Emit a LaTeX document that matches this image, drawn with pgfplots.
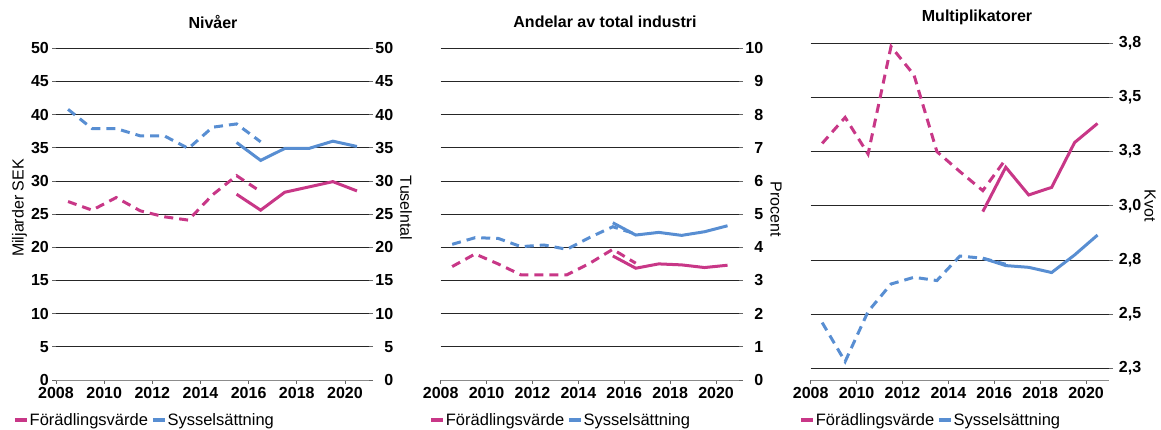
\documentclass[border=0pt]{standalone}
\usepackage{fontspec}
\setmainfont{Liberation Sans}
\usepackage{pgfplots}
\pgfplotsset{compat=1.18}

\definecolor{fvcol}{RGB}{200,55,135}
\definecolor{sscol}{RGB}{88,142,210}
\newcommand\fs{\fontsize{16}{19}\selectfont}
\newcommand\lfs{\fontsize{16.5}{19}\selectfont}

\pgfplotsset{
  panel/.style={
    scale only axis, anchor=south west,
    xmin=2008, xmax=2021, xtick={2008,2010,...,2020},
    /pgf/number format/1000 sep={},
    /pgf/number format/assume math mode=true,
    tick label style={font=\bfseries\fs},
    axis x line*=bottom,
    x axis line style={black!45, line width=0.8pt},
    y axis line style={draw=none},
    tick align=outside, major tick length=4pt,
    tick style={black!60, line width=0.8pt},
    ymajorgrids, major grid style={black!85, line width=0.8pt},
    xticklabel style={inner ysep=3.5pt},
    legend columns=2,
    legend style={draw=none, fill=none, inner sep=0pt, font=\lfs,
      at={(0,0)}, anchor=west, yshift=-40pt,
      /tikz/every even column/.append style={column sep=2pt},
      nodes={inner xsep=1pt}},
    legend image code/.code={\draw[##1, line width=3.5pt] (0pt,0pt) -- (12pt,0pt);},
  },
  old/.style={dash pattern=on 9pt off 6pt, line width=3pt, forget plot},
  new/.style={solid, line width=3pt},
}

\begin{document}
\begin{tikzpicture}
\path[use as bounding box] (0,0) rectangle (1161pt,430pt);

% Panel 1: Nivåer
\begin{axis}[panel, at={(56pt,50pt)}, width=313pt, height=331.7pt,
  ymin=0, ymax=50, ytick={0,5,...,50}, axis y line*=left,
  yticklabel style={inner xsep=3pt, inner ysep=0pt},
  legend style={xshift=-43pt}]
\addplot[fvcol, old] coordinates {(2008.5,26.9) (2009.5,25.6) (2010.5,27.5) (2011.5,25.5) (2012.5,24.6) (2013.5,24.1) (2014.5,27.9) (2015.5,30.8) (2016.5,28.4)};
\addplot[sscol, old] coordinates {(2008.5,40.8) (2009.5,37.9) (2010.5,37.9) (2011.5,36.8) (2012.5,36.8) (2013.5,34.9) (2014.5,38.1) (2015.5,38.6) (2016.5,35.9)};
\addplot[fvcol, new] coordinates {(2015.5,28.0) (2016.5,25.6) (2017.5,28.3) (2018.5,29.1) (2019.5,29.9) (2020.5,28.5)};
\addplot[sscol, new] coordinates {(2015.5,35.8) (2016.5,33.1) (2017.5,34.9) (2018.5,34.9) (2019.5,36.0) (2020.5,35.2)};
\legend{Förädlingsvärde, Sysselsättning}
\end{axis}
\begin{axis}[scale only axis, anchor=south west, at={(56pt,50pt)}, width=313pt, height=331.7pt,
  xmin=2008, xmax=2021, ymin=0, ymax=50, ytick={0,5,...,50},
  axis x line=none, axis y line*=right, y axis line style={draw=none},
  tick align=outside, major tick length=4pt, tick style={black!60, line width=0.8pt},
  /pgf/number format/assume math mode=true,
  yticklabel style={font=\bfseries\fs, text width=19pt, align=right, inner xsep=1pt, inner ysep=0pt}]
\end{axis}

% Panel 2: Andelar av total industri
\begin{axis}[panel, at={(440.7pt,50pt)}, width=298.3pt, height=331.7pt,
  ymin=0, ymax=10, ytick={0,1,...,10}, axis y line*=right,
  yticklabel style={text width=19pt, align=right, inner xsep=1pt, inner ysep=0pt},
  legend style={xshift=-11.5pt}]
\addplot[fvcol, old] coordinates {(2008.5,3.42) (2009.5,3.80) (2010.5,3.50) (2011.5,3.17) (2012.5,3.17) (2013.5,3.17) (2014.5,3.52) (2015.5,3.94) (2016.5,3.52)};
\addplot[sscol, old] coordinates {(2008.5,4.09) (2009.5,4.29) (2010.5,4.27) (2011.5,4.02) (2012.5,4.07) (2013.5,3.94) (2014.5,4.30) (2015.5,4.62) (2016.5,4.40)};
\addplot[fvcol, new] coordinates {(2015.5,3.74) (2016.5,3.37) (2017.5,3.50) (2018.5,3.47) (2019.5,3.39) (2020.5,3.46)};
\addplot[sscol, new] coordinates {(2015.5,4.74) (2016.5,4.37) (2017.5,4.45) (2018.5,4.36) (2019.5,4.47) (2020.5,4.65)};
\legend{Förädlingsvärde, Sysselsättning}
\end{axis}

% Panel 3: Multiplikatorer
\begin{axis}[panel, at={(810.7pt,50pt)}, width=298.3pt, height=336.7pt,
  ymin=2.196, ymax=3.75, ytick={2.25,2.5,...,3.75},
  yticklabels={{2,3},{2,5},{2,8},{3,0},{3,3},{3,5},{3,8}},
  axis y line*=right,
  yticklabel style={text width=27pt, align=right, inner xsep=1pt, inner ysep=0pt},
  legend style={xshift=-11.5pt}]
\addplot[fvcol, old] coordinates {(2008.5,3.288) (2009.5,3.408) (2010.5,3.239) (2011.5,3.735) (2012.5,3.604) (2013.5,3.25) (2014.5,3.158) (2015.5,3.07) (2016.5,3.215)};
\addplot[sscol, old] coordinates {(2008.5,2.461) (2009.5,2.281) (2010.5,2.512) (2011.5,2.639) (2012.5,2.67) (2013.5,2.655) (2014.5,2.768) (2015.5,2.758) (2016.5,2.73)};
\addplot[fvcol, new] coordinates {(2015.5,2.973) (2016.5,3.178) (2017.5,3.05) (2018.5,3.085) (2019.5,3.292) (2020.5,3.38)};
\addplot[sscol, new] coordinates {(2015.5,2.758) (2016.5,2.724) (2017.5,2.716) (2018.5,2.692) (2019.5,2.773) (2020.5,2.865)};
\legend{Förädlingsvärde, Sysselsättning}
\end{axis}

% titles and axis names
\node[font=\bfseries\fs] at (213pt,408pt) {Nivåer};
\node[font=\bfseries\fs] at (605pt,408pt) {Andelar av total industri};
\node[font=\bfseries\fs] at (977pt,413pt) {Multiplikatorer};
\node[font=\fs, rotate=90] at (19.5pt,222pt) {Miljarder SEK};
\node[font=\fs, rotate=-90] at (406pt,222pt) {Tuselntal};
\node[font=\fs, rotate=-90] at (776pt,221pt) {Procent};
\node[font=\fs, rotate=-90] at (1150pt,224pt) {Kvot};
\end{tikzpicture}
\end{document}
